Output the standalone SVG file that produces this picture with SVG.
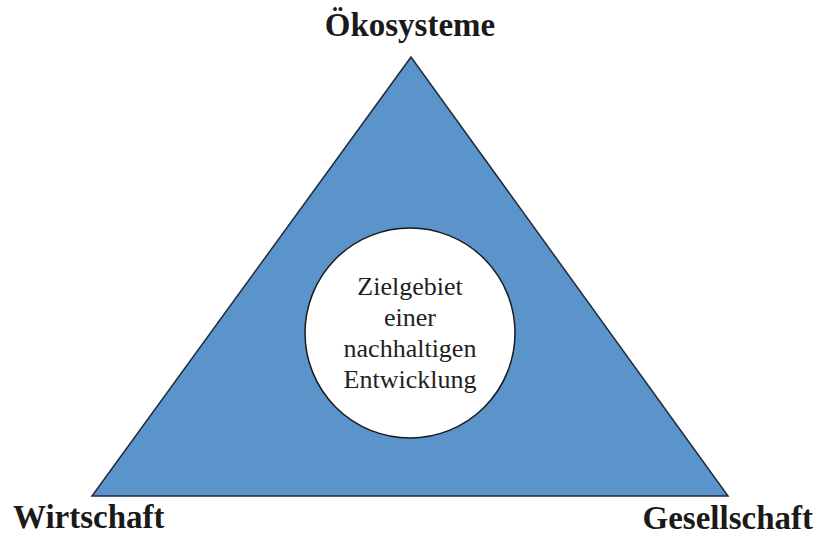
<svg xmlns="http://www.w3.org/2000/svg" width="824" height="544" viewBox="0 0 824 544">
<style>
.lbl{font-family:"Liberation Serif","Times New Roman",serif;font-weight:bold;font-size:33px;fill:#1a1a1a}
.ctr{font-family:"Liberation Serif","Times New Roman",serif;font-size:26px;fill:#222;text-anchor:middle}
</style>
<rect width="824" height="544" fill="#ffffff"/>
<g id="triangle">
<polygon points="411,57 92,496 728,496" fill="#5b93cb" stroke="#1f2a3a" stroke-width="1.5" stroke-linejoin="miter"/>
</g>
<g id="center">
<circle cx="410" cy="333" r="105" fill="#ffffff" stroke="#1a1a1a" stroke-width="1.5"/>
<text class="ctr" x="410" y="295">Zielgebiet</text>
<text class="ctr" x="410" y="326">einer</text>
<text class="ctr" x="410" y="357">nachhaltigen</text>
<text class="ctr" x="410" y="388">Entwicklung</text>
</g>
<g id="oekosysteme"><text class="lbl" x="410" y="36" text-anchor="middle">Ökosysteme</text></g>
<g id="wirtschaft"><text class="lbl" x="13" y="528">Wirtschaft</text></g>
<g id="gesellschaft"><text class="lbl" x="813" y="529" text-anchor="end">Gesellschaft</text></g>
<g id="connectors"></g>
</svg>
